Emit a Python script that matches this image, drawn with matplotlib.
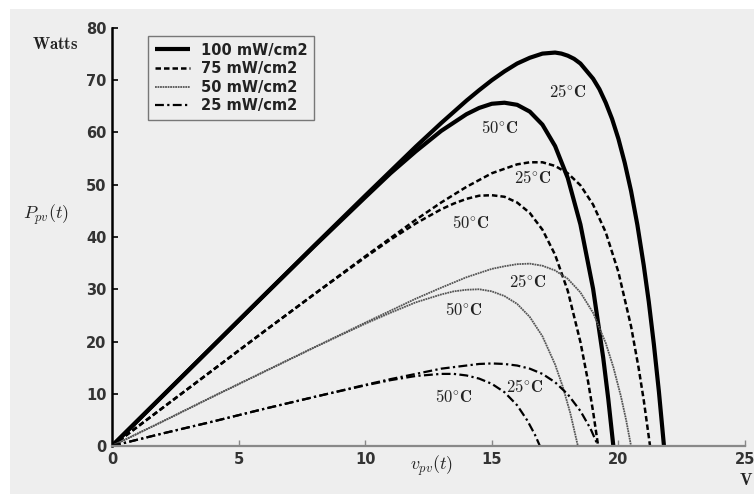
import matplotlib
matplotlib.use("Agg")
import matplotlib.pyplot as plt
from matplotlib.patches import Rectangle

plt.rcParams["mathtext.fontset"] = "cm"

# 100 mW/cm2
v_100_25 = [0, 2, 4, 6, 8, 10, 12, 13, 14, 14.5, 15, 15.5, 16, 16.5, 17, 17.25, 17.5, 17.75, 18, 18.25,
            18.5, 19, 19.25, 19.5, 19.75, 20, 20.25, 20.5, 20.75, 21, 21.2, 21.4, 21.6, 21.8]
p_100_25 = [0, 9.6, 19.2, 28.8, 38.4, 47.9, 57.3, 61.8, 66.1, 68.1, 70.0, 71.7, 73.2, 74.3, 75.1, 75.2, 75.3, 75.1, 74.7, 74.1,
            73.2, 70.3, 68.3, 65.7, 62.6, 58.8, 54.2, 48.8, 42.3, 34.6, 27.6, 19.5, 10.4, 0]
v_100_50 = [0, 2, 4, 6, 8, 10, 11, 12, 13, 14, 14.5, 15, 15.5, 16, 16.5, 17, 17.5, 18, 18.5, 19, 19.4, 19.6, 19.8]
p_100_50 = [0, 9.6, 19.2, 28.8, 38.3, 47.6, 52.2, 56.4, 60.3, 63.5, 64.7, 65.5, 65.7, 65.3, 64.0, 61.5, 57.4, 51.3, 42.4, 30.1, 16.9, 9.0, 0]

# 75 mW/cm2
v_75_25 = [0, 2, 4, 6, 8, 10, 12, 13, 14, 15, 16, 16.5, 17, 17.5, 18, 18.5, 19, 19.5, 20, 20.5, 20.8, 21.0, 21.25]
p_75_25 = [0, 7.3, 14.6, 21.9, 29.1, 36.3, 43.3, 46.6, 49.6, 52.2, 53.9, 54.3, 54.3, 53.6, 52.2, 49.9, 46.2, 40.9, 33.3, 22.9, 14.9, 8.8, 0]
v_75_50 = [0, 2, 4, 6, 8, 10, 11, 12, 13, 13.5, 14, 14.5, 15, 15.5, 16, 16.5, 17, 17.5, 18, 18.5, 18.8, 19.0, 19.2]
p_75_50 = [0, 7.3, 14.6, 21.9, 29.1, 36.1, 39.5, 42.6, 45.3, 46.4, 47.3, 47.9, 48.0, 47.7, 46.6, 44.6, 41.4, 36.6, 29.7, 19.9, 12.4, 6.6, 0]

# 50 mW/cm2
v_50_25 = [0, 2, 4, 6, 8, 10, 12, 13, 14, 14.5, 15, 15.5, 16, 16.5, 17, 17.5, 18, 18.5, 19, 19.5, 19.8, 20.1, 20.3, 20.5]
p_50_25 = [0, 4.7, 9.5, 14.2, 18.9, 23.6, 28.2, 30.3, 32.3, 33.1, 33.9, 34.4, 34.8, 34.9, 34.5, 33.6, 32.0, 29.4, 25.5, 19.7, 15.1, 9.5, 5.1, 0]
v_50_50 = [0, 2, 4, 6, 8, 10, 11, 12, 13, 13.5, 14, 14.5, 15, 15.5, 16, 16.5, 17, 17.5, 17.8, 18.1, 18.4]
p_50_50 = [0, 4.7, 9.5, 14.2, 18.9, 23.4, 25.5, 27.5, 29.0, 29.6, 29.9, 30.0, 29.6, 28.7, 27.2, 24.7, 21.0, 15.6, 11.4, 6.3, 0]

# 25 mW/cm2
v_25_25 = [0, 2, 4, 6, 8, 10, 11, 12, 13, 14, 14.5, 15, 15.5, 16, 16.5, 17, 17.5, 18, 18.5, 18.9, 19.2]
p_25_25 = [0, 2.4, 4.7, 7.1, 9.4, 11.7, 12.8, 13.8, 14.8, 15.4, 15.7, 15.8, 15.7, 15.4, 14.8, 13.8, 12.2, 9.9, 6.7, 3.3, 0]
v_25_50 = [0, 2, 4, 6, 8, 10, 11, 11.5, 12, 12.5, 13, 13.5, 14, 14.5, 15, 15.5, 16, 16.4, 16.7, 16.9]
p_25_50 = [0, 2.4, 4.7, 7.1, 9.4, 11.6, 12.6, 13.0, 13.4, 13.6, 13.8, 13.8, 13.5, 12.9, 11.9, 10.3, 7.8, 4.9, 2.2, 0]

legend_labels = ["100 mW/cm2", "75 mW/cm2", "50 mW/cm2", "25 mW/cm2"]

# temperature labels: (text, v, p)
temp_labels = [
    ("25", 18.0, 67.8), ("50", 15.3, 60.9),
    ("25", 16.6, 51.3), ("50", 14.15, 42.7),
    ("25", 16.4, 31.4), ("50", 13.9, 26.1),
    ("25", 16.3, 11.3), ("50", 13.5, 9.4),
]

x_ticks = [0, 5, 10, 15, 20, 25]
y_ticks = [0, 10, 20, 30, 40, 50, 60, 70, 80]

bg = "#eeeeee"
fig = plt.figure(figsize=(7.54, 4.94), dpi=100, facecolor="white")
fig.patches.append(Rectangle((10 / 754, 0), 1, 1 - 9 / 494, transform=fig.transFigure,
                             facecolor=bg, edgecolor="none", zorder=-10))
ax = fig.add_axes([112 / 754, 48 / 494, 633 / 754, 418 / 494])
ax.set_facecolor(bg)

styles = [
    dict(color="black", lw=3.0, ls="-"),
    dict(color="black", lw=1.8, ls=(0, (2.2, 1.2))),
    dict(color="#555555", lw=1.3, ls=(0, (1.0, 0.4))),
    dict(color="black", lw=1.6, ls=(0, (4, 1.5, 1, 1.5))),
]
series = [
    [(v_100_25, p_100_25), (v_100_50, p_100_50)],
    [(v_75_25, p_75_25), (v_75_50, p_75_50)],
    [(v_50_25, p_50_25), (v_50_50, p_50_50)],
    [(v_25_25, p_25_25), (v_25_50, p_25_50)],
]
handles = []
for st, curves in zip(styles, series):
    for i, (v, p) in enumerate(curves):
        line, = ax.plot(v, p, solid_capstyle="butt", solid_joinstyle="round", **st)
        if i == 0:
            handles.append(line)

for t, v, p in temp_labels:
    ax.text(v, p, r"$\mathbf{" + t + r"^{\circ}C}$", fontsize=12, ha="center", va="center",
            color="#222222")

ax.set_xlim(0, 25)
ax.set_ylim(0, 80)
ax.set_xticks(x_ticks)
ax.set_yticks(y_ticks)
ax.spines["top"].set_visible(False)
ax.spines["right"].set_visible(False)
ax.spines["left"].set_linewidth(1.8)
ax.spines["bottom"].set_color("#888888")
ax.spines["bottom"].set_linewidth(1.6)
ax.tick_params(axis="y", direction="in", length=4, width=1.2, pad=4, labelsize=10.5)
ax.tick_params(axis="x", direction="in", length=4, width=1.0, color="#888888", pad=4, labelsize=10.5)
for lab in ax.get_xticklabels() + ax.get_yticklabels():
    lab.set_fontweight("bold")
    lab.set_color("#333333")

leg = ax.legend(handles, legend_labels, loc="upper left", bbox_to_anchor=(0.057, 0.981), borderaxespad=0,
                prop={"size": 10.5, "weight": "bold"}, frameon=True, fancybox=False,
                edgecolor="#777777", facecolor=bg, framealpha=1, handlelength=2.4,
                labelspacing=0.25, borderpad=0.45, handletextpad=0.8)
for txt in leg.get_texts():
    txt.set_color("#222222")

fig.text(55 / 754, 1 - 44 / 494, r"$\mathbf{Watts}$", fontsize=12, ha="center", va="center",
         color="#222222")
fig.text(46 / 754, 1 - 215 / 494, r"$P_{pv}(t)$", fontsize=13, ha="center", va="center",
         color="#222222")
fig.text(432 / 754, 1 - 466 / 494, r"$v_{pv}(t)$", fontsize=13, ha="center", va="center",
         color="#222222")
fig.text(746 / 754, 1 - 480 / 494, r"$\mathbf{V}$", fontsize=12, ha="center", va="center",
         color="#222222")

fig.savefig("out.png", dpi=100, facecolor=fig.get_facecolor())
